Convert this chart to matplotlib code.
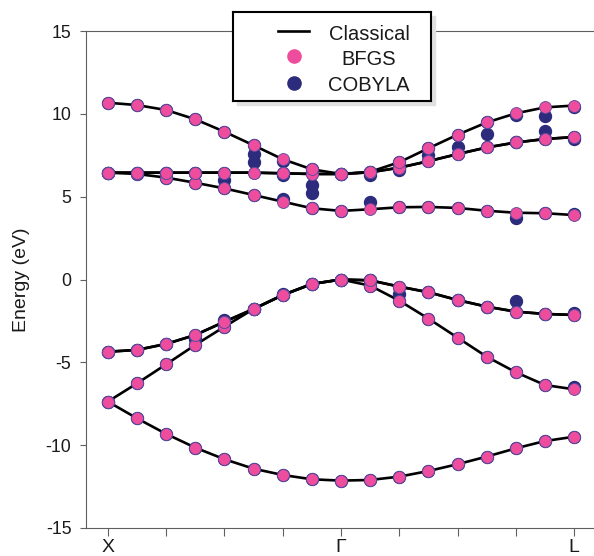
import numpy as np
import matplotlib
matplotlib.use('Agg')
import matplotlib.pyplot as plt
from matplotlib.patches import Rectangle

plt.rcParams['font.family'] = ['Liberation Sans', 'DejaVu Sans']

# k-path X -> Gamma -> L, 17 points
k = np.arange(17)
tick_pos = [0, 2, 4, 6, 8, 10, 12, 14, 16]
tick_lab = ['X', '', '', '', 'Γ', '', '', '', 'L']

# classical bands (eV), BFGS sits on them
v1 = [-7.37, -8.38, -9.32, -10.15, -10.85, -11.42, -11.8, -12.06, -12.14,
      -12.1, -11.9, -11.56, -11.15, -10.69, -10.19, -9.75, -9.49]
v2 = [-7.37, -6.27, -5.12, -3.95, -2.85, -1.78, -0.94, -0.27, 0.0,
      -0.37, -1.28, -2.36, -3.51, -4.66, -5.6, -6.37, -6.63]
v3 = [-4.36, -4.25, -3.89, -3.35, -2.55, -1.78, -0.94, -0.27, 0.0,
      -0.05, -0.43, -0.77, -1.24, -1.64, -1.94, -2.08, -2.14]
v4 = list(v3)
c1 = [6.45, 6.37, 6.15, 5.84, 5.5, 5.1, 4.7, 4.3, 4.14,
      4.24, 4.36, 4.38, 4.32, 4.15, 4.03, 4.0, 3.89]
c2 = [6.45, 6.45, 6.45, 6.45, 6.45, 6.45, 6.41, 6.37, 6.37,
      6.47, 6.75, 7.14, 7.57, 7.97, 8.27, 8.48, 8.6]
c3 = list(c2)
c4 = [10.67, 10.53, 10.23, 9.67, 8.92, 8.1, 7.26, 6.65, 6.37,
      6.5, 7.08, 7.92, 8.74, 9.48, 10.03, 10.39, 10.5]

bands = {'v1': v1, 'v2': v2, 'v3': v3, 'v4': v4,
         'c1': c1, 'c2': c2, 'c3': c3, 'c4': c4}

# COBYLA points that differ from BFGS: (band, k index, energy)
cobyla_diff = [
    ('v4', 3, -3.62), ('v4', 4, -2.45), ('v4', 10, -0.85), ('v4', 14, -1.3), ('v4', 16, -2.0),
    ('v2', 6, -0.85), ('v2', 16, -6.5),
    ('c1', 6, 4.85), ('c1', 9, 4.65), ('c1', 14, 3.7), ('c1', 16, 3.95),
    ('c2', 5, 7.1), ('c2', 6, 6.3), ('c2', 7, 5.7), ('c2', 9, 6.3), ('c2', 16, 8.5),
    ('c3', 4, 6.0), ('c3', 5, 7.6), ('c3', 7, 5.22), ('c3', 10, 6.6), ('c3', 11, 7.5),
    ('c3', 12, 8.0), ('c3', 13, 8.76), ('c3', 15, 8.98),
    ('c4', 6, 7.15), ('c4', 14, 9.9), ('c4', 15, 9.87), ('c4', 16, 10.42),
]

cobyla = {name: list(vals) for name, vals in bands.items()}
for name, i, e in cobyla_diff:
    cobyla[name][i] = e

pink = '#ee4c9c'
navy = '#2c2b7c'
grey = '#606060'

W, H = 594, 556
fig = plt.figure(figsize=(W / 100, H / 100), dpi=100)
ax = fig.add_axes([86 / W, 1 - 528 / H, 510 / W, 497 / H])

for name in bands:
    ax.plot(k, bands[name], color='black', lw=1.9, zorder=2)
for name in bands:
    ax.plot(k, cobyla[name], 'o', ms=8.6, color=navy, mec=navy, zorder=3)
for name in bands:
    ax.plot(k, bands[name], 'o', ms=8.6, color=pink, mec='#5a4aa0', mew=0.6, zorder=4)

ax.set_xlim(-0.75, 16.75)
ax.set_ylim(-15, 15)
ax.set_yticks([-15, -10, -5, 0, 5, 10, 15])
ax.set_yticklabels(['-15', '-10', '-5', '0', '5', '10', '15'])
ax.set_xticks(tick_pos)
ax.set_xticklabels(tick_lab)
ax.tick_params(axis='y', direction='out', length=4.5, width=0.8, color=grey,
               labelsize=12.8, pad=6, labelcolor='#1a1a1a')
ax.tick_params(axis='x', direction='out', length=5.5, width=0.8, color=grey,
               labelsize=14, pad=2.5, labelcolor='#1a1a1a')
ax.spines['right'].set_visible(False)
for s in ['left', 'top', 'bottom']:
    ax.spines[s].set_color(grey)
    ax.spines[s].set_linewidth(0.8)
ax.set_ylabel('Energy (eV)', fontsize=14, color='#1a1a1a')
ax.yaxis.set_label_coords(-56 / 510, 0.5)

# legend box drawn by hand so the labels can be centred
lx, ly, lw_, lh = 233, 12, 198, 89
shadow = Rectangle(((lx + 4) / W, 1 - (ly + lh + 4) / H), lw_ / W, lh / H,
                   transform=fig.transFigure, color='0.88', zorder=5)
fig.add_artist(shadow)
lax = fig.add_axes([lx / W, 1 - (ly + lh) / H, lw_ / W, lh / H], zorder=10)
lax.set_xlim(0, lw_)
lax.set_ylim(lh, 0)
lax.set_xticks([])
lax.set_yticks([])
for s in lax.spines.values():
    s.set_color('black')
    s.set_linewidth(1.5)
lax.plot([45, 76], [19, 19], color='black', lw=1.9)
lax.plot([61], [44], 'o', ms=9.5, color=pink)
lax.plot([61], [71], 'o', ms=9.5, color=navy)
lax.text(136, 27.5, 'Classical', ha='center', va='baseline', fontsize=14.5, color='#1a1a1a')
lax.text(136, 53, 'BFGS', ha='center', va='baseline', fontsize=14.5, color='#1a1a1a')
lax.text(136, 79, 'COBYLA', ha='center', va='baseline', fontsize=14.5, color='#1a1a1a')

fig.savefig('out.png', dpi=100)
